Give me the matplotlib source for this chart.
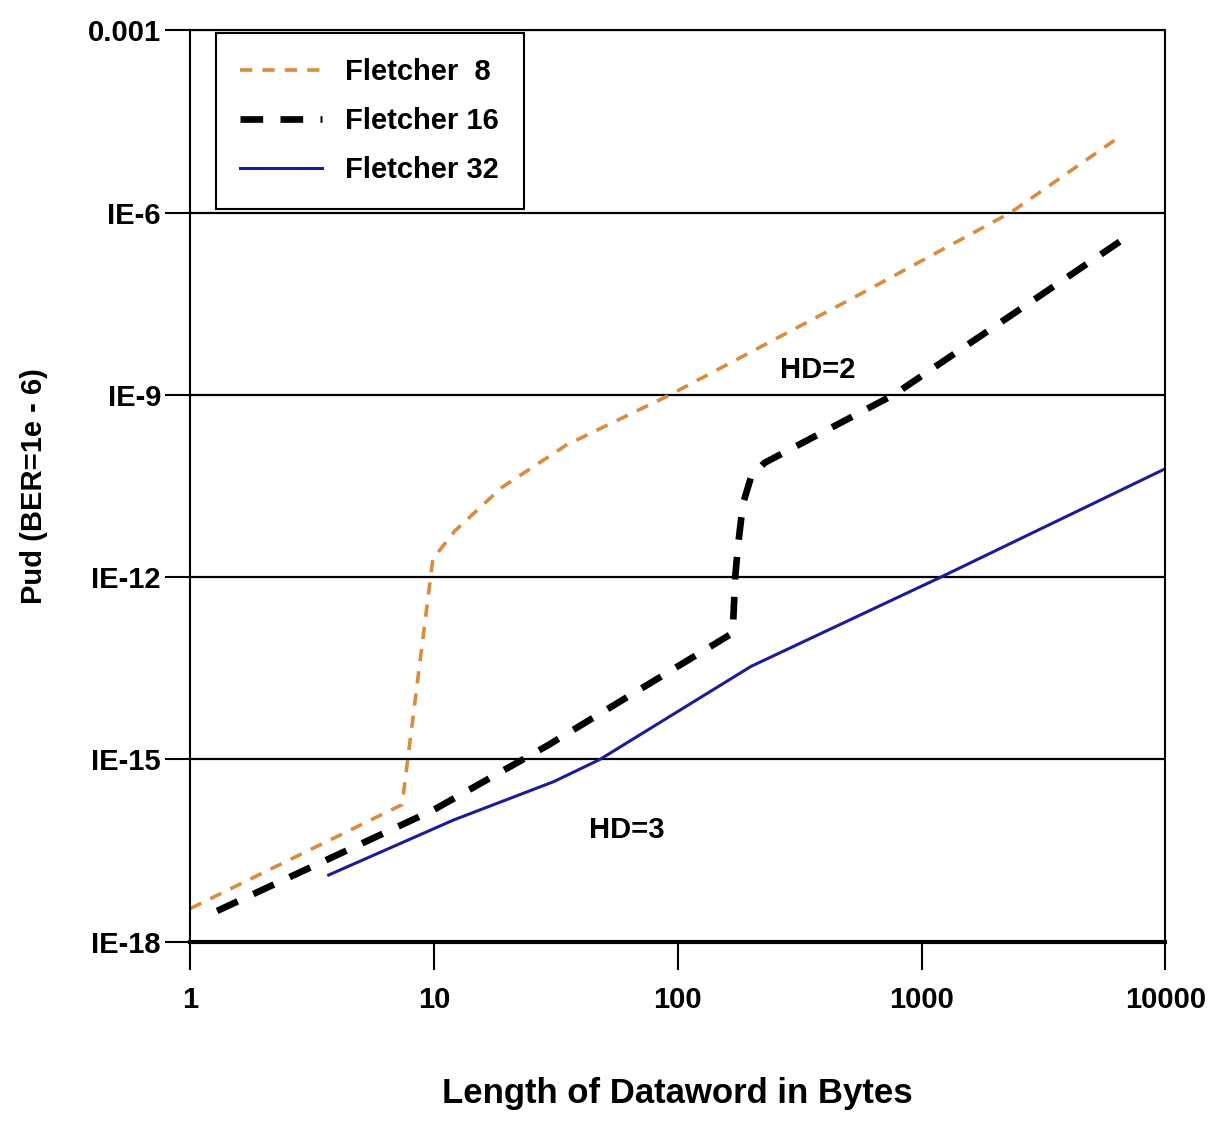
import matplotlib
matplotlib.use("Agg")
import matplotlib.pyplot as plt
from matplotlib.ticker import FixedLocator, NullFormatter

# values (x in bytes, y = Pud)
f8_len = [1, 7.4, 9.9, 12.2, 19, 35, 93, 546, 2320, 6660]
f8_pud = [3.5e-18, 1.8e-16, 2.0e-12, 5.8e-12, 3.0e-11, 1.5e-10, 1.0e-9, 4.3e-8, 1.0e-6, 1.9e-5]

f16_len = [1.29, 9.9, 29.3, 168, 172, 177, 185, 200, 227, 769, 6960]
f16_pud = [3.2e-18, 1.45e-16, 1.7e-15, 1.2e-13, 1.0e-12, 3.5e-12, 1.6e-11, 4.5e-11, 7.6e-11, 1.0e-9, 4.0e-7]

f32_len = [3.7, 12, 31, 48, 200, 1200, 9840]
f32_pud = [1.25e-17, 1.0e-16, 4.3e-16, 1.0e-15, 3.4e-14, 1.0e-12, 5.9e-11]

x_ticks = [1, 10, 100, 1000, 10000]
x_labels = ['1', '10', '100', '1000', '10000']
y_ticks = [1e-18, 1e-15, 1e-12, 1e-9, 1e-6, 1e-3]
y_labels = ['IE-18', 'IE-15', 'IE-12', 'IE-9', 'IE-6', '0.001']

FONT = ['Liberation Sans', 'DejaVu Sans']

fig = plt.figure(figsize=(12.19, 11.21), dpi=100)
ax = fig.add_axes([0.156, 0.160, 0.800, 0.813])

ax.plot(f8_len, f8_pud, color='#D98C3E', lw=2.6, dashes=(3.4, 2.8),
        label='Fletcher  8')
ax.plot(f16_len, f16_pud, color='black', lw=4.8, dashes=(3.4, 2.6),
        label='Fletcher 16')
ax.plot(f32_len, f32_pud, color='#1C1C96', lw=2.2, label='Fletcher 32')

ax.set_xscale('log')
ax.set_yscale('log')
ax.set_xlim(1, 10000)
ax.set_ylim(1e-18, 1e-3)

ax.set_xticks(x_ticks)
ax.set_xticklabels(x_labels)
ax.set_yticks(y_ticks)
ax.set_yticklabels(y_labels)
ax.xaxis.set_minor_locator(FixedLocator([1, 10000]))
ax.xaxis.set_minor_formatter(NullFormatter())
ax.yaxis.set_minor_locator(FixedLocator([]))

ax.tick_params(axis='x', which='major', direction='out', length=20, width=1.5, pad=12)
ax.tick_params(axis='x', which='minor', direction='out', length=48, width=1.5)
ax.tick_params(axis='y', direction='out', length=18, width=1.5, pad=3)
for lab in ax.get_xticklabels() + ax.get_yticklabels():
    lab.set_family(FONT)
    lab.set_fontweight('bold')
    lab.set_fontsize(21)

ax.yaxis.grid(True, which='major', color='black', lw=1.6)
for s in ['left', 'right', 'top']:
    ax.spines[s].set_linewidth(1.5)
ax.spines['bottom'].set_linewidth(3)

ax.text(376, 2.6e-9, 'HD=2', ha='center', va='center', fontsize=21,
        fontweight='bold', family=FONT)
ax.text(62, 6.8e-17, 'HD=3', ha='center', va='center', fontsize=21,
        fontweight='bold', family=FONT)

ax.set_xlabel('Length of Dataword in Bytes', fontsize=25, fontweight='bold',
              family=FONT, labelpad=45)
ax.set_ylabel('Pud (BER=1e - 6)', fontsize=21, fontweight='bold', family=FONT)
ax.yaxis.set_label_coords(-0.146, 0.5)

leg = ax.legend(loc='upper left', bbox_to_anchor=(0.026, 0.997), borderaxespad=0,
                fancybox=False, framealpha=1, edgecolor='black', handlelength=2.8,
                borderpad=0.85, labelspacing=0.72, handletextpad=0.8,
                prop={'family': FONT, 'weight': 'bold', 'size': 21})
leg.get_frame().set_linewidth(1.5)

fig.savefig('out.png', dpi=100, facecolor='white')
